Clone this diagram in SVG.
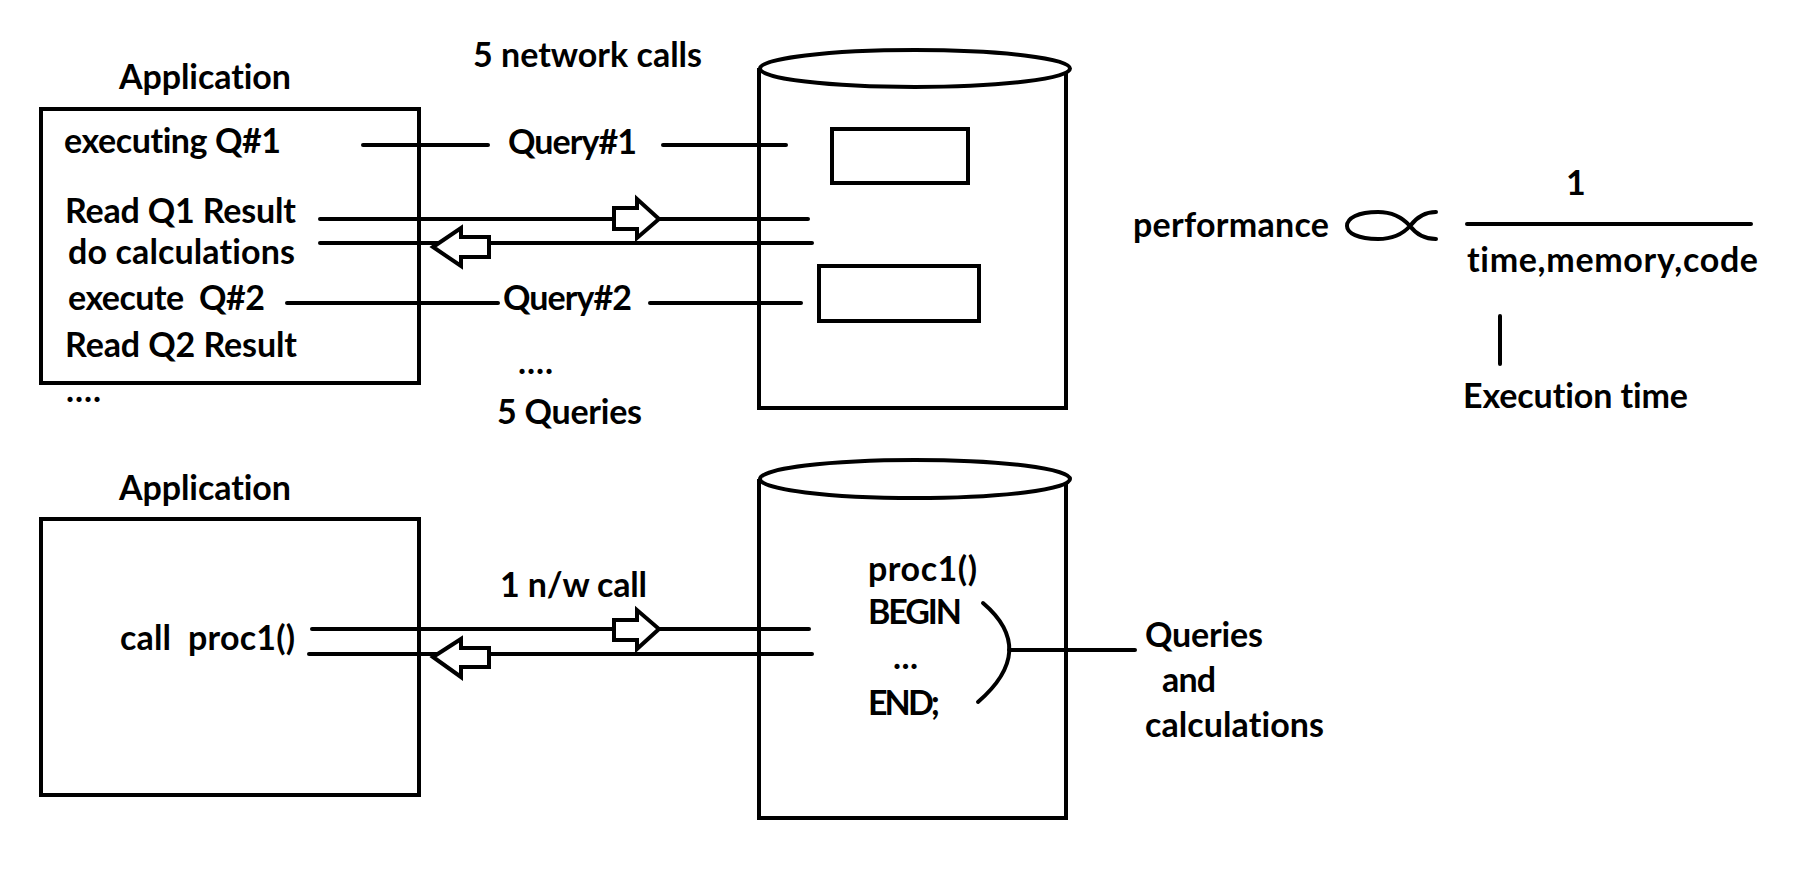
<svg xmlns="http://www.w3.org/2000/svg" width="1820" height="884" viewBox="0 0 1820 884">
<style>
.t{font-family:Lato,"Liberation Sans",sans-serif;font-weight:bold;font-size:34px;fill:#000;font-variant-ligatures:none;font-feature-settings:"liga" 0}
.s{fill:none;stroke:#000;stroke-width:4}
.ln{fill:none;stroke:#000;stroke-width:4;stroke-linecap:round}
.ar{fill:#fff;stroke:#000;stroke-width:4;stroke-linejoin:miter}
</style>
<rect width="1820" height="884" fill="#fff"/>

<g id="app1">
<text class="t" x="119" y="89" textLength="172">Application</text>
<rect class="s" x="41" y="109" width="378" height="274"/>
<text class="t" x="64" y="153" textLength="217">executing Q#1</text>
<text class="t" x="65" y="223" textLength="231">Read Q1 Result</text>
<text class="t" x="68" y="264" textLength="227">do calculations</text>
<text class="t" x="68" y="310" textLength="197" xml:space="preserve">execute  Q#2</text>
<text class="t" x="65" y="357" textLength="232">Read Q2 Result</text>
<text class="t" x="66" y="402" textLength="35">....</text>
</g>

<g id="db1">
<path class="s" d="M759,68 V408 H1066 V72"/>
<ellipse class="s" cx="915" cy="68.5" rx="155" ry="18.5" fill="#fff"/>
<rect class="s" x="832" y="129" width="136" height="54"/>
<rect class="s" x="819" y="266" width="160" height="55"/>
</g>

<g id="labels1">
<text class="t" x="473" y="67" textLength="229">5 network calls</text>
<text class="t" x="508" y="154" textLength="129">Query#1</text>
<text class="t" x="503" y="310" textLength="129">Query#2</text>
<text class="t" x="518" y="374" textLength="35">....</text>
<text class="t" x="497" y="424" textLength="145">5 Queries</text>
</g>

<g id="connectors">
<line class="ln" x1="363" y1="145" x2="488" y2="145"/>
<line class="ln" x1="663" y1="145" x2="786" y2="145"/>
<line class="ln" x1="320" y1="219" x2="808" y2="219"/>
<line class="ln" x1="320" y1="243" x2="812" y2="243"/>
<line class="ln" x1="287" y1="303" x2="498" y2="303"/>
<line class="ln" x1="650" y1="303" x2="801" y2="303"/>
<polygon class="ar" points="614,208 637,208 637,199 659,219 637,238 637,229 614,229"/>
<polygon class="ar" points="433,247 461,228 461,237 489,237 489,257 461,257 461,266"/>
<line class="ln" x1="312" y1="629" x2="809" y2="629"/>
<line class="ln" x1="309" y1="654" x2="812" y2="654"/>
<polygon class="ar" points="614,620 637,620 637,610 659,629 637,649 637,640 614,640"/>
<polygon class="ar" points="433,657 461,639 461,648 489,648 489,667 461,667 461,677"/>
<path class="ln" d="M983,603 Q1038,650 978,702"/>
<line class="ln" x1="1009" y1="650" x2="1135" y2="650"/>
</g>

<g id="app2">
<text class="t" x="119" y="500" textLength="172">Application</text>
<rect class="s" x="41" y="519" width="378" height="276"/>
<text class="t" x="120" y="650" textLength="175" xml:space="preserve">call  proc1()</text>
<text class="t" x="500" y="597" textLength="147">1 n/w call</text>
</g>

<g id="db2">
<path class="s" d="M759,479 V818 H1066 V483"/>
<ellipse class="s" cx="915" cy="479" rx="155" ry="19" fill="#fff"/>
<text class="t" x="868" y="581" textLength="109">proc1()</text>
<text class="t" x="868" y="624" textLength="94">BEGIN</text>
<text class="t" x="893" y="669" textLength="25">...</text>
<text class="t" x="868" y="715" textLength="72">END;</text>
</g>

<g id="note">
<text class="t" x="1145" y="647" textLength="118">Queries</text>
<text class="t" x="1162" y="692" textLength="54">and</text>
<text class="t" x="1145" y="737" textLength="179">calculations</text>
</g>

<g id="formula">
<text class="t" x="1133" y="237" textLength="196">performance</text>
<path class="ln" d="M1436,212 C1424,212 1416,218 1410,226 C1402,235 1390,239 1378,239 C1358,239 1347,233 1347,226 C1347,218 1358,212 1378,212 C1390,212 1402,217 1410,226 C1416,234 1424,239 1436,239"/>
<text class="t" x="1566" y="195" textLength="15">1</text>
<line class="ln" x1="1467" y1="224" x2="1751" y2="224"/>
<text class="t" x="1467" y="272" textLength="291">time,memory,code</text>
<line class="ln" x1="1500" y1="316" x2="1500" y2="364"/>
<text class="t" x="1463" y="408" textLength="225">Execution time</text>
</g>
</svg>
